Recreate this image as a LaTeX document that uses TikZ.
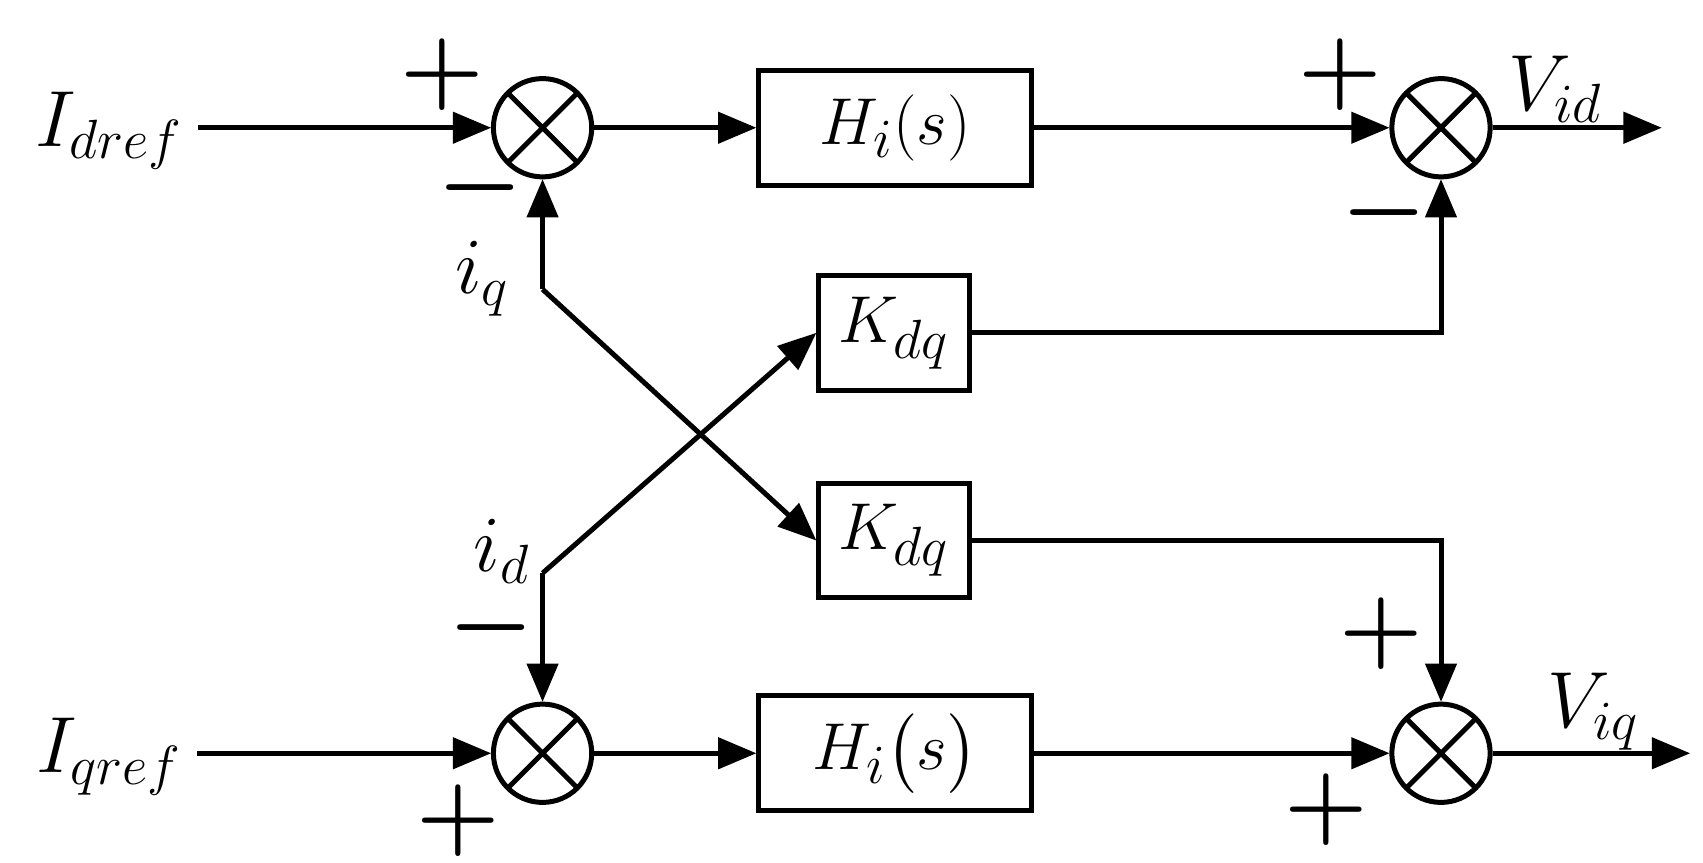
\documentclass[tikz,border=0pt]{standalone}
\usepackage{tikz}
\usetikzlibrary{arrows}
\usetikzlibrary{shapes}
\usetikzlibrary{positioning}
\usepackage{amsmath}
\begin{document}
\begin{tikzpicture}[>=triangle 45, x=0.01cm, y=-0.01cm, line width=1.3pt,
  sum/.style={circle, draw, minimum size=0.9cm, inner sep=0pt,
    path picture={\draw (path picture bounding box.north west) -- (path picture bounding box.south east)
      (path picture bounding box.north east) -- (path picture bounding box.south west);}},
  blk/.style={rectangle, draw, font=\fontsize{19}{22}\selectfont},
  lbl/.style={font=\fontsize{22}{26}\selectfont},
  sgn/.style={font=\fontsize{26}{28}\selectfont\boldmath}]
\useasboundingbox (0,0) rectangle (1560,790);

% Define nodes
\node (s1) [sum] at (497,117) {};
\node (s2) [sum] at (1320,117) {};
\node (s3) [sum] at (497,690) {};
\node (s4) [sum] at (1320,690) {};
\node (h1) [blk, minimum width=2.5cm, minimum height=1.05cm] at (820,117) {$H_i(s)$};
\node (h2) [blk, minimum width=2.5cm, minimum height=1.05cm] at (820,690) {$H_i\big(s\big)$};
\node (k1) [blk, minimum width=1.38cm, minimum height=1.05cm] at (819,305) {$K_{dq}$};
\node (k2) [blk, minimum width=1.38cm, minimum height=1.05cm] at (819,495) {$K_{dq}$};

\node (idref) [lbl] at (100,120) {$I_{dref}$};
\node (iqref) [lbl] at (100,693) {$I_{qref}$};
\coordinate (vid) at (1522,117);
\coordinate (viq) at (1548,690);
\coordinate (cq) at (497,265);
\coordinate (cd) at (497,525);
\coordinate (c1) at (s2 |- k1);
\coordinate (c2) at (s4 |- k2);

% Labels and signs
\node [lbl] at (1425,82) {$V_{id}$};
\node [lbl] at (1460,652) {$V_{iq}$};
\node [lbl] at (442,255) {$i_q$};
\node [lbl] at (460,505) {$i_d$};
\node [sgn] at (405,68) {$+$};
\node [sgn] at (440,172) {$-$};
\node [sgn] at (1228,68) {$+$};
\node [sgn] at (1268,195) {$-$};
\node [sgn] at (450,575) {$-$};
\node [sgn] at (420,752) {$+$};
\node [sgn] at (1265,580) {$+$};
\node [sgn] at (1215,742) {$+$};

% Forward paths
\draw[->] (idref.east |- s1) -- (s1);
\draw[->] (s1) -- (h1);
\draw[->] (h1) -- (s2);
\draw[->] (s2) -- (vid);
\draw[->] (iqref.east |- s3) -- (s3);
\draw[->] (s3) -- (h2);
\draw[->] (h2) -- (s4);
\draw[->] (s4) -- (viq);

% Cross coupling
\draw[->] (cq) -- (s1);
\draw[->] (cq) -- (k2.west);
\draw[->] (cd) -- (s3);
\draw[->] (cd) -- (k1.west);
\draw[->] (k1) -- (c1) -- (s2);
\draw[->] (k2) -- (c2) -- (s4);

\end{tikzpicture}
\end{document}
